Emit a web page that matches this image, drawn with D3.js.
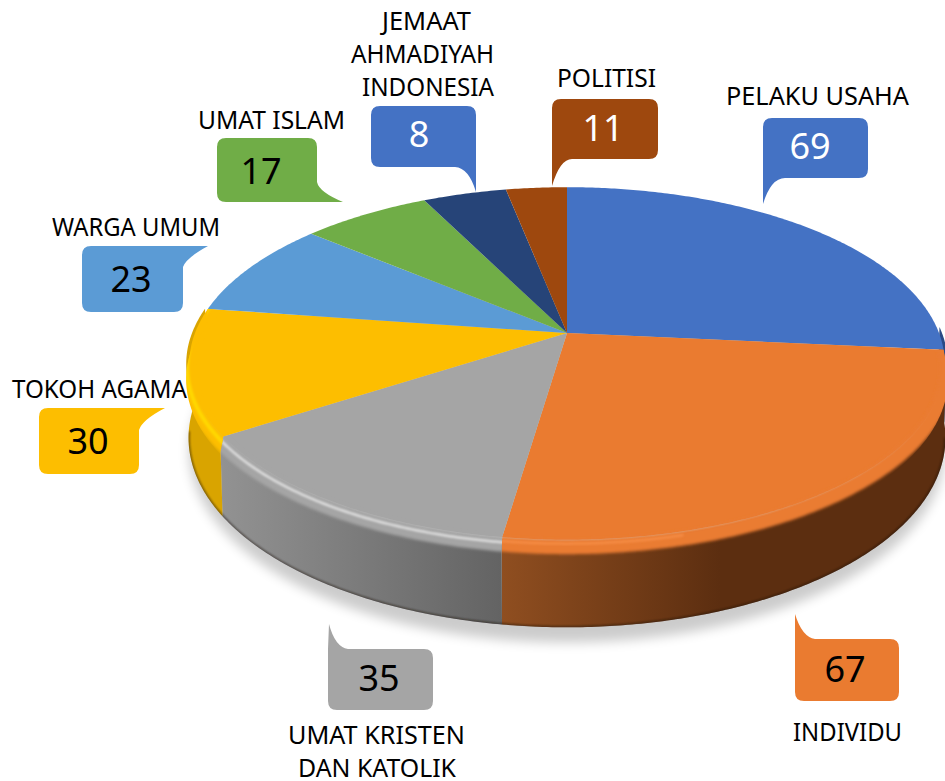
<!DOCTYPE html>
<html><head><meta charset="utf-8">
<script src="https://cdn.jsdelivr.net/npm/d3@7"></script>
<style>html,body{margin:0;padding:0;background:#fff;overflow:hidden}svg{display:block}
text{font-family:"Noto Sans","Open Sans",sans-serif}</style></head>
<body><svg id="c" width="945" height="781"></svg>
<script>
// ---- data ----
const categories = ["PELAKU USAHA","INDIVIDU","UMAT KRISTEN DAN KATOLIK","TOKOH AGAMA","WARGA UMUM","UMAT ISLAM","JEMAAT AHMADIYAH INDONESIA","POLITISI"];
const labelValues = [69,67,35,30,23,17,8,11];
// wedge sizes as they are actually drawn (dark blue wedge is the wider of the last two)
const wedgeValues = [69,67,35,30,23,17,11,8];
const wedgeColors = ["#4472C4","#EA7B30","#A5A5A5","#FDBE00","#5B9BD5","#70AD47","#264478","#9E480E"];
const calloutColors = ["#4472C4","#EA7B30","#A5A5A5","#FDBE00","#5B9BD5","#70AD47","#4472C4","#9E480E"];
const numberColors = ["#fff","#000","#000","#000","#000","#000","#fff","#fff"];

// ---- layout ----
const cx=567, cy=333, A=372, B=171, K=0.1728, DEPTH=72;
const boxes = [
 {x0:763,x1:868,y0:118,y1:178,tip:[763,204],kind:"bl",base:22,numX:810,num:159},
 {x0:795,x1:899,y0:639,y1:701,tip:[795,614],kind:"tl",base:20,numX:845,num:682},
 {x0:328,x1:433,y0:649,y1:710,tip:[329,624],kind:"tl",base:20,numX:379,num:691},
 {x0:39,x1:139,y0:408,y1:474,tip:[165,408],kind:"rt",base:22,numX:88,num:454},
 {x0:82,x1:183,y0:246,y1:312,tip:[208,246],kind:"rt",base:21,numX:131,num:292},
 {x0:217,x1:317,y0:138,y1:202,tip:[343,202],kind:"rb",base:20,numX:261,num:184},
 {x0:371,x1:476,y0:106,y1:167,tip:[476,192],kind:"br",base:21,numX:419,num:147},
 {x0:552,x1:658,y0:99,y1:159,tip:[552,186],kind:"bl",base:20,numX:603,num:141}
];
const labelLines = [
 [{t:"PELAKU USAHA",x0:726,x1:909,y:105}],
 [{t:"INDIVIDU",x0:793,x1:902,y:741}],
 [{t:"UMAT KRISTEN",x0:288,x1:465,y:744},{t:"DAN KATOLIK",x0:298,x1:456,y:777}],
 [{t:"TOKOH AGAMA",x0:12,x1:187,y:398}],
 [{t:"WARGA UMUM",x0:52,x1:220,y:236}],
 [{t:"UMAT ISLAM",x0:198,x1:345,y:129}],
 [{t:"JEMAAT",x0:382,x1:471,y:30},{t:"AHMADIYAH",x0:351,x1:494,y:63},{t:"INDONESIA",x0:362,x1:494,y:96}],
 [{t:"POLITISI",x0:557,x1:656,y:87}]
];

const svg=d3.select("#c");
const defs=svg.append("defs");
[["b1",1],["b15",1.5],["b6",6]].forEach(([id,s])=>{
  defs.append("filter").attr("id",id).attr("x","-20%").attr("y","-20%").attr("width","140%").attr("height","140%")
    .append("feGaussianBlur").attr("stdDeviation",s);
});
function grad(id,x1,x2,stops){
  const g=defs.append("linearGradient").attr("id",id).attr("gradientUnits","userSpaceOnUse")
    .attr("x1",x1).attr("x2",x2).attr("y1",0).attr("y2",0);
  stops.forEach(([o,c])=>g.append("stop").attr("offset",o).attr("stop-color",c));
  return `url(#${id})`;
}
const wallFills=[
  "#2a4a85",
  grad("wo",503,720,[[0,"#8f4e20"],[1,"#5c2e10"]]),
  grad("wg",222,503,[[0,"#929292"],[1,"#636363"]]),
  "#D9A400","#3a6a96","#4a7530","#182c50","#6a3009"
];
const P=(a,r=1,dz=0)=>{
  const u=r*Math.sin(a), v=r*Math.cos(a), w=1+K*v;
  return [cx+A*u/w, cy-B*v/w+dz/w];
};
const arcPts=(a0,a1,r,dz)=>{
  const n=Math.max(2,Math.ceil(Math.abs(a1-a0)/0.01));
  return d3.range(n+1).map(i=>P(a0+(a1-a0)*i/n,r,dz));
};
const line=d3.line();
const pie=d3.pie().sort(null).startAngle(0).endAngle(2*Math.PI);
const arcs=pie(wedgeValues);
const FRONT0=88*Math.PI/180, FRONT1=arcs[3].endAngle;

// shadow
svg.append("path").attr("d",line(arcPts(0,2*Math.PI,1.0,DEPTH+13))+"Z")
  .attr("fill","#000").attr("opacity",.2).attr("filter","url(#b6)");

// walls
const front=arcs.map((d,i)=>({i,a0:Math.max(d.startAngle,FRONT0),a1:Math.min(d.endAngle,FRONT1)})).filter(d=>d.a1>d.a0);
const walls=svg.append("g");
front.forEach(s=>{
  const top=arcPts(s.a0,s.a1,1.008,0), bot=arcPts(s.a1,s.a0,1.002,DEPTH);
  walls.append("path").attr("d",line(top.concat(bot))+"Z").attr("fill",wallFills[s.i]);
});
// dark seam along the wall's lower edge
const seamClip=defs.append("clipPath").attr("id","seam");
seamClip.append("path").attr("d",line(arcPts(FRONT0,FRONT1,1.008,0).concat(arcPts(FRONT1,FRONT0,1.002,DEPTH)))+"Z");
svg.append("g").attr("clip-path","url(#seam)").append("path")
  .attr("d",line(arcPts(100*Math.PI/180,262*Math.PI/180,1.002,DEPTH)))
  .attr("fill","none").attr("stroke","#1c1208").attr("stroke-width",2.5).attr("opacity",.55).attr("filter","url(#b1)");

// faces
svg.append("g").selectAll("path").data(arcs).join("path")
  .attr("d",d=>line([[cx,cy]].concat(arcPts(d.startAngle,d.endAngle,1,0)))+"Z")
  .attr("fill",(d,i)=>wedgeColors[i]);

// bevel along the front rim of each wedge
const highlight={1:"#F58C45",2:"#DEDEDE",3:"#FFD800"};
front.forEach(s=>{
  if(s.i===0) return;
  const id="clip"+s.i;
  defs.append("clipPath").attr("id",id).append("path")
    .attr("d",line([[cx,cy],P(s.a0,1,0)].concat(arcPts(s.a0,s.a1,1.008,15),[P(s.a1,1,0)]))+"Z");
  const g=svg.append("g").attr("clip-path",`url(#${id})`);
  g.append("path").attr("d",line(arcPts(s.a0-.05,s.a1+.05,1.006,4.5)))
    .attr("fill","none").attr("stroke",wedgeColors[s.i]).attr("stroke-width",15).attr("filter","url(#b15)");
  const h=highlight[s.i];
  if(h){
    const end=s.a1+.05;
    const start=s.i===1? 165*Math.PI/180 : s.a0-.05;
    g.append("path").attr("d",line(arcPts(start,end,1.006,s.i===1?2:3)))
      .attr("fill","none").attr("stroke",h).attr("stroke-width",s.i===3?4:2.5).attr("filter","url(#b1)");
  }
});

// callouts
function calloutPath(b){
  const r=9,{x0,x1,y0,y1,tip,kind,base}=b,[tx,ty]=tip;
  let p="";
  if(kind==="tl"){
    p=`M${x0},${y0}L${tx},${ty}Q${x0+7},${y0-2} ${x0+base},${y0}`;
  }else{
    p=`M${x0},${y0+r}Q${x0},${y0} ${x0+r},${y0}`;
  }
  if(kind==="rt"){
    p+=`L${tx},${ty}Q${x1+3},${y0+12} ${x1},${y0+base}`;
  }else{
    p+=`L${x1-r},${y0}Q${x1},${y0} ${x1},${y0+r}`;
  }
  if(kind==="rb"){
    p+=`L${x1},${y1-base}Q${x1+2},${y1-10} ${tx},${ty}`;
    p+=`L${x0+r},${y1}Q${x0},${y1} ${x0},${y1-r}`;
  }else if(kind==="br"){
    p+=`L${x1},${tip[1]}Q${x1-7},${y1+1} ${x1-base},${y1}`;
    p+=`L${x0+r},${y1}Q${x0},${y1} ${x0},${y1-r}`;
  }else if(kind==="bl"){
    p+=`L${x1},${y1-r}Q${x1},${y1} ${x1-r},${y1}`;
    p+=`L${x0+base},${y1}Q${x0+8},${y1} ${tx},${ty}`;
  }else{
    p+=`L${x1},${y1-r}Q${x1},${y1} ${x1-r},${y1}`;
    p+=`L${x0+r},${y1}Q${x0},${y1} ${x0},${y1-r}`;
  }
  return p+"Z";
}
const cg=svg.append("g");
categories.forEach((c,i)=>{
  const b=boxes[i];
  cg.append("path").attr("d",calloutPath(b)).attr("fill",calloutColors[i]);
  cg.append("text").attr("x",b.numX).attr("y",b.num).attr("text-anchor","middle")
    .attr("font-size",36).attr("fill",numberColors[i]).text(labelValues[i]);
  labelLines[i].forEach(l=>{
    cg.append("text").attr("x",l.x0).attr("y",l.y).attr("font-size",25).attr("fill","#000")
      .attr("textLength",l.x1-l.x0).attr("lengthAdjust","spacingAndGlyphs").text(l.t);
  });
});
</script></body></html>
